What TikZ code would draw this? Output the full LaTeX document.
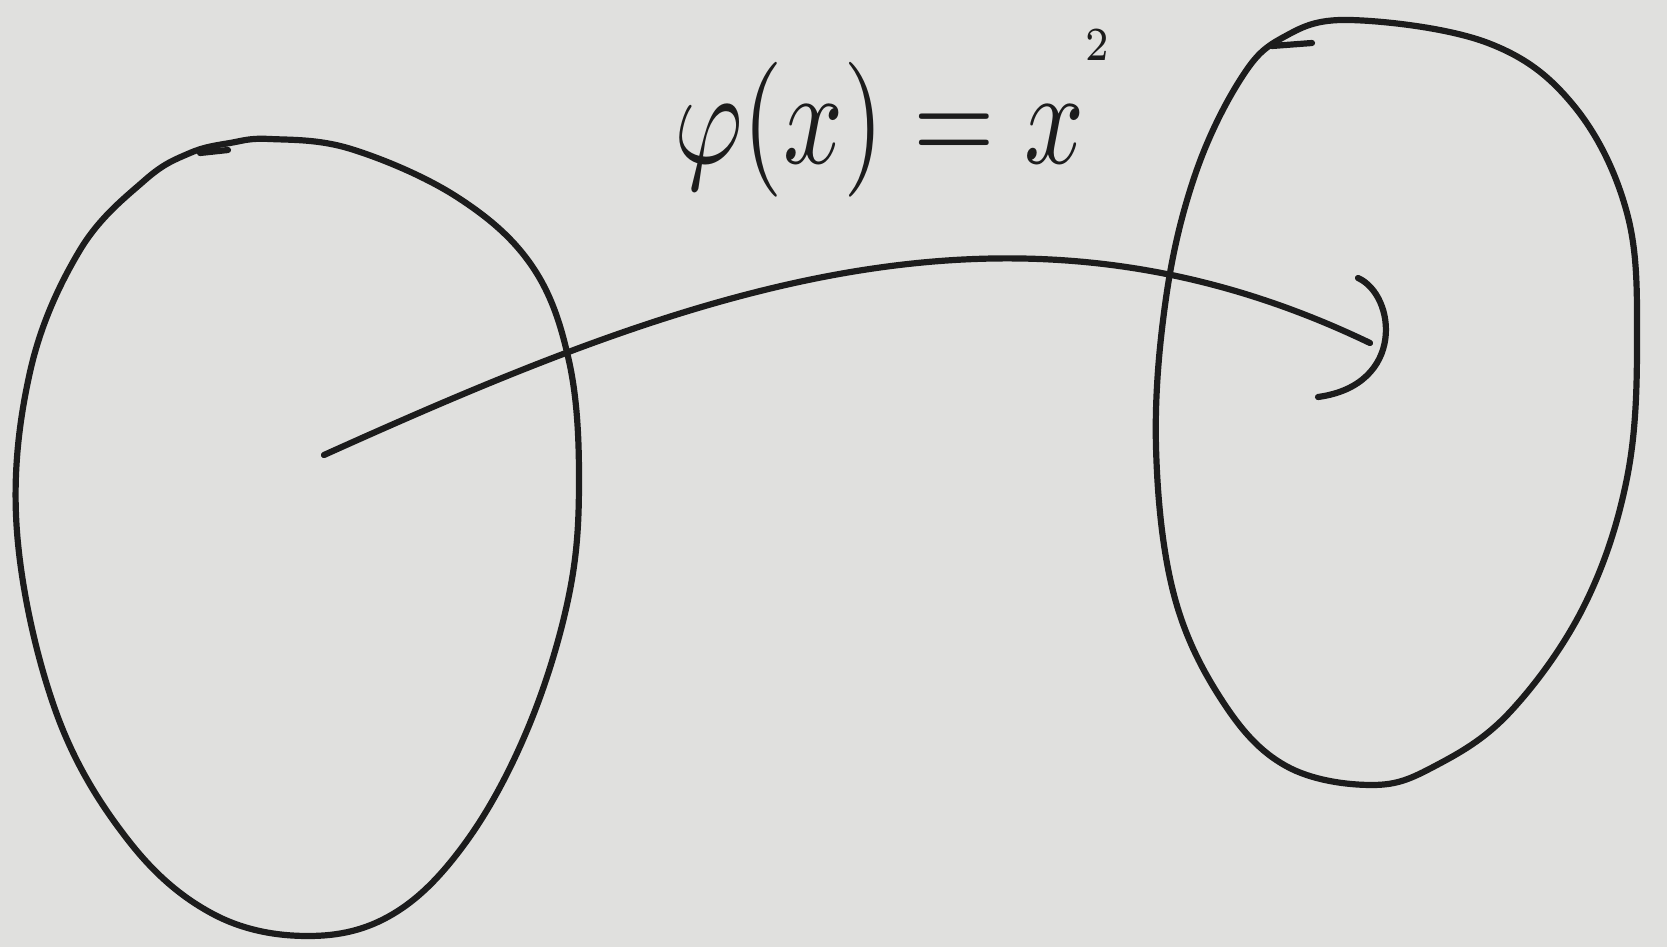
\documentclass[tikz,border=0pt]{standalone}
\usepackage{graphicx}
\definecolor{paper}{RGB}{224,224,222}
\definecolor{ink}{RGB}{28,28,28}
\tikzset{
  pen/.style={draw=ink, line width=6.2pt, line cap=round, line join=round},
  lbl/.style={text=ink, inner sep=0pt, anchor=base west, xscale=10.5, yscale=13.5}
}
\begin{document}
\begin{tikzpicture}[x=1pt, y=-1pt]
\fill[paper] (0,0) rectangle (1667,947);
\useasboundingbox (0,0) rectangle (1667,947);
% left set
\draw[pen] plot[smooth cycle, tension=0.62] coordinates {
  (270,139) (351,149) (457,197) (532,266) (569,361) (579,478) (569,595)
  (528,728) (466,842) (393,914) (308,936) (213,914) (128,840) (56,712)
  (17,532) (30,372) (80,250) (145,180) (190,153) (230,143)};
\draw[pen] (200,153) -- (228,150);
% right set
\draw[pen] plot[smooth cycle, tension=0.62] coordinates {
  (1350,20) (1488,43) (1574,106) (1627,213) (1637,340) (1627,478)
  (1584,606) (1510,712) (1435,766) (1372,785) (1286,766) (1223,702)
  (1174,595) (1156,447) (1166,298) (1195,175) (1240,80) (1282,38)};
\draw[pen] (1272,46) -- (1312,43);
% label
\node[lbl] (phi) at (672,163) {$\varphi(x)=x^{\raisebox{4pt}{\scalebox{0.7}{$\scriptscriptstyle 2$}}}$};
% map arrow
\coordinate (a) at (324,455);
\coordinate (b) at (1370,343);
\coordinate (h1) at (1358,278);
\coordinate (h2) at (1318,397);
\draw[pen] (a) .. controls (690,290) and (1010,170) .. (b);
\draw[pen] (h1) .. controls (1396,295) and (1406,385) .. (h2);
\end{tikzpicture}
\end{document}
